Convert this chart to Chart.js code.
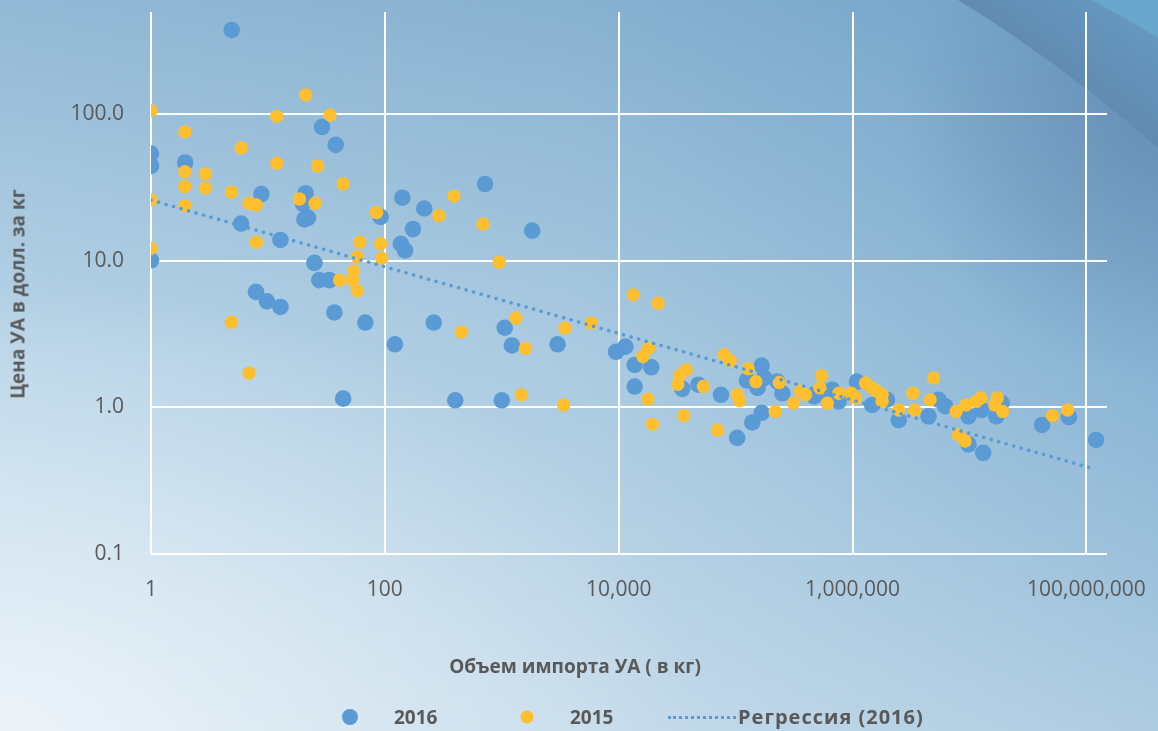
<!DOCTYPE html>
<html lang="ru">
<head>
<meta charset="utf-8">
<title>Цена УА и объем импорта</title>
<script src="https://cdn.jsdelivr.net/npm/chart.js@4.4.1/dist/chart.umd.min.js"></script>
<style>
    html, body { margin: 0; padding: 0; }
    body {
        width: 1158px;
        height: 731px;
        overflow: hidden;
        font-family: 'Open Sans', sans-serif;
    }
    .stage {
        position: relative;
        width: 1158px;
        height: 731px;
        background:
            radial-gradient(ellipse 700px 450px at 0% 100%, rgba(255, 255, 255, 0.6), rgba(255, 255, 255, 0)),
            linear-gradient(to bottom, rgba(45, 110, 165, 0.28) 0%, rgba(45, 110, 165, 0) 50%, rgba(255, 255, 255, 0) 50%, rgba(255, 255, 255, 0.32) 100%),
            linear-gradient(to right, #b9d5e8 0%, #abcbe1 50%, #88b4d4 100%);
    }
    .stage svg.bg { position: absolute; left: 0; top: 0; }
    .stage canvas { position: absolute; left: 0; top: 0; }
    .label {
        position: absolute;
        color: #595959;
        font-weight: 700;
        font-size: 19px;
        white-space: nowrap;
        line-height: 1;
    }
    .y-title { left: 18px; top: 294px; transform: translate(-50%, -50%) rotate(-90deg); }
    .x-title { left: 575px; top: 666px; transform: translate(-50%, -50%); }
    .legend-dot { position: absolute; border-radius: 50%; transform: translate(-50%, -50%); }
    .legend-line { position: absolute; height: 0; border-top: 3px dotted #5b9bd5; }
    .legend-text { top: 717px; transform: translateY(-50%); }
</style>
</head>
<body>
<div class="stage">
    <svg class="bg" width="1158" height="731">
        <defs>
            <linearGradient id="band" gradientUnits="userSpaceOnUse" x1="1040" y1="110" x2="1110" y2="10">
                <stop offset="0" stop-color="#5f84a9"/>
                <stop offset="1" stop-color="#6597bf"/>
            </linearGradient>
            <radialGradient id="shade" gradientUnits="userSpaceOnUse" cx="1158" cy="120" r="260">
                <stop offset="0" stop-color="#56789f" stop-opacity="0.5"/>
                <stop offset="1" stop-color="#56789f" stop-opacity="0"/>
            </radialGradient>
        </defs>
        <rect x="800" y="0" width="358" height="420" fill="url(#shade)"/>
        <path d="M958,0 Q1060,62 1158,148 L1158,0 Z" fill="url(#band)"/>
        <path d="M1092,0 Q1126,18 1158,38 L1158,0 Z" fill="#6aa7cd"/>
    </svg>
    <canvas id="scatterChart" width="1158" height="731"></canvas>
    <div class="label y-title">Цена УА в долл. за кг</div>
    <div class="label x-title">Объем импорта УА ( в кг)</div>
    <div class="legend-dot" style="left:350px;top:717px;width:16px;height:16px;background:#5b9bd5"></div>
    <div class="label legend-text" style="left:394px">2016</div>
    <div class="legend-dot" style="left:527px;top:717px;width:13px;height:13px;background:#fdbf2d"></div>
    <div class="label legend-text" style="left:570px">2015</div>
    <div class="legend-line" style="left:668px;top:716px;width:68px"></div>
    <div class="label legend-text" style="left:738px;font-size:20px;letter-spacing:1px">Регрессия (2016)</div>
</div>
<script>
// import volume (kg) and price ($/kg)
const x2016 = [4.9, 29, 38, 1, 1, 1.96, 8.8, 21, 20, 22, 20.5, 5.9, 12.8, 92, 1, 25, 27.5, 33.5, 7.9, 9.8,
    12.8, 37, 68, 122, 44, 141, 217, 174, 137, 149, 720, 1820, 262, 1060, 1220, 3000, 400, 1000, 9500, 11400,
    13700, 19000, 13700, 35000, 48000, 75000, 167000, 125000, 154000, 176000, 228000, 251000, 167000, 139000, 103000,
    470000, 570000, 670000, 760000, 1090000, 1470000, 1970000, 2480000, 4470000, 5430000, 6190000, 9800000,
    12700000, 17000000, 18800000, 9800000, 13100000, 41800000, 71000000, 121000000];
const y2016 = [377, 82, 62, 54, 44.5, 47, 28.6, 29, 24.5, 19.7, 19.2, 18, 13.9, 20, 10.1, 9.7, 7.4, 7.4, 6.15, 5.3,
    4.85, 4.45, 3.8, 2.7, 1.15, 27, 22.8, 16.5, 13.1, 11.8, 33.5, 16.1, 3.8, 3.5, 2.65, 2.7, 1.12, 1.12, 2.4, 2.6,
    1.95, 1.88, 1.39, 1.34, 1.43, 1.22, 1.93, 1.53, 1.36, 1.59, 1.5, 1.25, 0.92, 0.79, 0.62,
    1.19, 1.29, 1.32, 1.1, 1.5, 1.04, 1.13, 0.82, 0.87, 1.13, 1.02, 0.87,
    0.96, 0.87, 1.07, 0.56, 0.49, 0.76, 0.86, 0.6];

const x2015 = [1, 1.95, 21, 11.9, 34, 5.9, 11.9, 26.6, 1.95, 2.92, 1.95, 2.92, 4.87, 44, 1, 1.95, 6.9, 7.95, 18.6, 25.3,
    85, 7.95, 1, 61, 92, 58, 94, 54, 41, 53, 58, 4.87, 6.9, 390, 290, 690, 950, 450, 1320, 3470,
    1590, 1470, 3380, 13300, 21700, 5800, 18000, 16100, 37700, 33100, 32000, 53000, 80000, 90000, 128000, 149000,
    17800, 103000, 108000, 36000, 19400, 70000, 218000, 236000, 312000, 360000, 397000, 543000, 527000, 608000,
    764000, 973000, 1060000, 1290000, 1470000, 1620000, 1790000, 1790000, 2480000, 3280000, 3400000, 4610000,
    4930000, 7680000, 9330000, 11400000, 12500000, 17300000, 16500000, 19200000, 8040000, 9160000, 51200000, 69000000];
const y2015 = [106, 76, 136, 97, 99, 59, 46.5, 44.5, 40.7, 39.3, 32.2, 31.4, 29.5, 33.6, 26.1, 23.8, 24.8, 24.1, 26.5, 24.8,
    21.4, 13.4, 12.2, 13.4, 13.1, 10.7, 10.45, 8.5, 7.4, 7.4, 6.25, 3.82, 1.72, 27.7, 20.4, 17.9, 9.8, 3.27, 4.07, 3.48,
    2.53, 1.22, 1.04, 5.87, 5.15, 3.77, 2.54, 2.23, 1.81, 1.65, 1.44, 1.39, 2.29, 2.08, 1.84, 1.5,
    1.14, 1.22, 1.11, 0.88, 0.77, 0.7, 0.94, 1.48, 1.07, 1.29, 1.22, 1.65, 1.36, 1.07,
    1.25, 1.25, 1.16, 1.47, 1.36, 1.29, 1.22, 1.1, 0.96, 1.25, 0.96, 1.13,
    1.59, 0.94, 1.04, 1.1, 1.16, 1.16, 1.04, 0.94, 0.65, 0.59, 0.88, 0.96];

// power trend line for 2016, end points
const regX = [1, 110000000];
const regY = [26, 0.386];

const xTicks = [1, 100, 10000, 1000000, 100000000];
const yTicks = [0.1, 1, 10, 100];

const toPoints = (xs, ys) => xs.map((x, i) => ({ x, y: ys[i] }));

const tickColor = '#595959';
const gridColor = '#ffffff';

new Chart(document.getElementById('scatterChart'), {
    type: 'scatter',
    data: {
        datasets: [
            {
                label: 'Регрессия (2016)',
                type: 'line',
                data: toPoints(regX, regY),
                borderColor: '#5b9bd5',
                borderWidth: 3.5,
                borderDash: [0.1, 7.7],
                borderCapStyle: 'round',
                pointRadius: 0,
                fill: false,
                order: 0,
            },
            {
                label: '2015',
                data: toPoints(x2015, y2015),
                backgroundColor: '#fdbf2d',
                pointRadius: 6.7,
                pointBorderWidth: 0,
                order: 1,
            },
            {
                label: '2016',
                data: toPoints(x2016, y2016),
                backgroundColor: '#5b9bd5',
                pointRadius: 8.3,
                pointBorderWidth: 0,
                order: 2,
            },
        ],
    },
    options: {
        responsive: false,
        animation: false,
        layout: { padding: { top: 12, right: 51, left: 0, bottom: 0 } },
        plugins: {
            legend: { display: false },
            tooltip: { enabled: false },
        },
        scales: {
            x: {
                type: 'logarithmic',
                min: 1,
                max: 150000000,
                afterBuildTicks: (scale) => { scale.ticks = xTicks.map((v) => ({ value: v })); },
                afterFit: (scale) => {
                    scale.height = 177;
                    scale.paddingLeft = 0;
                    scale.paddingRight = 0;
                },
                grid: { color: gridColor, lineWidth: 2, drawTicks: false },
                border: { display: false },
                ticks: {
                    color: tickColor,
                    padding: 23,
                    autoSkip: false,
                    maxRotation: 0,
                    font: { family: 'Open Sans', size: 21 },
                    callback: (value) => Number(value).toLocaleString('en-US'),
                },
            },
            y: {
                type: 'logarithmic',
                min: 0.1,
                max: 500,
                afterBuildTicks: (scale) => { scale.ticks = yTicks.map((v) => ({ value: v })); },
                afterFit: (scale) => {
                    scale.width = 151;
                    scale.paddingTop = 0;
                    scale.paddingBottom = 0;
                },
                grid: { color: gridColor, lineWidth: 2, drawTicks: false },
                border: { display: false },
                ticks: {
                    color: tickColor,
                    padding: 27,
                    autoSkip: false,
                    font: { family: 'Open Sans', size: 21 },
                    callback: (value) => Number(value).toFixed(1),
                },
            },
        },
    },
});
</script>
</body>
</html>
